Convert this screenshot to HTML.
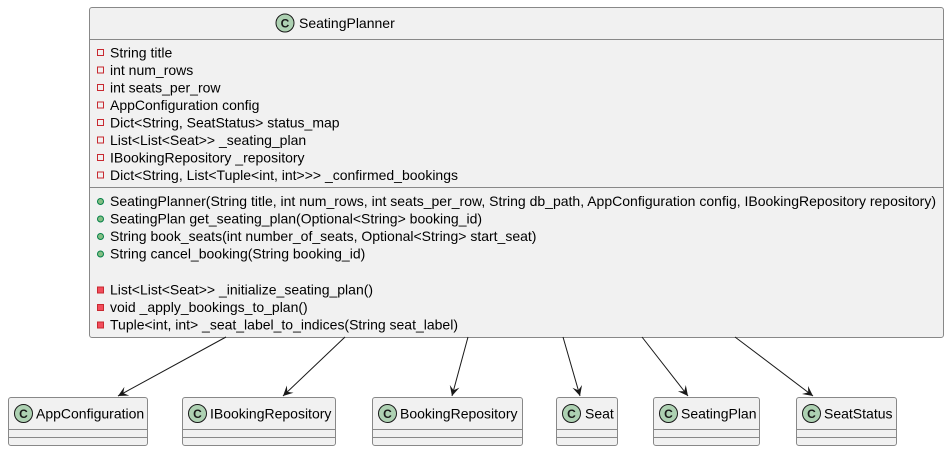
<!DOCTYPE html>
<html><head><meta charset="utf-8"><style>
html,body{margin:0;padding:0;background:#fff;}
svg{display:block;font-family:"Liberation Sans",sans-serif;}
</style></head><body>
<svg width="948" height="451" viewBox="0 0 948 451" xmlns="http://www.w3.org/2000/svg">
<defs>
<marker id="a" markerWidth="12" markerHeight="12" refX="10" refY="5" orient="auto" markerUnits="userSpaceOnUse">
<path d="M0,0 L10,5 L0,10 L4,5 Z" fill="#181818"/>
</marker>
</defs>
<rect x="89.5" y="7.5" width="854" height="330" rx="2.5" fill="#f1f1f1" stroke="#888" stroke-width="1"/>
<line x1="89.5" y1="39.5" x2="943.5" y2="39.5" stroke="#888"/>
<line x1="89.5" y1="187.5" x2="943.5" y2="187.5" stroke="#888"/>
<circle cx="285" cy="23" r="9" fill="#add1b2" stroke="#181818" stroke-width="1"/>
<text x="285" y="27.5" font-size="12" font-weight="bold" text-anchor="middle" fill="#181818">C</text>
<text x="299" y="28" font-size="14" fill="#000">SeatingPlanner</text>
<g fill="none" stroke="#c82930" stroke-width="1">
<rect x="97.5" y="49.5" width="6" height="6"/>
<rect x="97.5" y="67" width="6" height="6"/>
<rect x="97.5" y="84.5" width="6" height="6"/>
<rect x="97.5" y="102" width="6" height="6"/>
<rect x="97.5" y="119.5" width="6" height="6"/>
<rect x="97.5" y="137" width="6" height="6"/>
<rect x="97.5" y="154.5" width="6" height="6"/>
<rect x="97.5" y="172" width="6" height="6"/>
</g>
<g font-size="14" fill="#000">
<text x="110" y="57.5">String title</text>
<text x="110" y="75">int num_rows</text>
<text x="110" y="92.5">int seats_per_row</text>
<text x="110" y="110">AppConfiguration config</text>
<text x="110" y="127.5">Dict&lt;String, SeatStatus&gt; status_map</text>
<text x="110" y="145">List&lt;List&lt;Seat&gt;&gt; _seating_plan</text>
<text x="110" y="162.5">IBookingRepository _repository</text>
<text x="110" y="180" textLength="348">Dict&lt;String, List&lt;Tuple&lt;int, int&gt;&gt;&gt; _confirmed_bookings</text>
<text x="110" y="206" textLength="826">SeatingPlanner(String title, int num_rows, int seats_per_row, String db_path, AppConfiguration config, IBookingRepository repository)</text>
<text x="110" y="223.5">SeatingPlan get_seating_plan(Optional&lt;String&gt; booking_id)</text>
<text x="110" y="241">String book_seats(int number_of_seats, Optional&lt;String&gt; start_seat)</text>
<text x="110" y="258.5">String cancel_booking(String booking_id)</text>
<text x="110" y="294.5">List&lt;List&lt;Seat&gt;&gt; _initialize_seating_plan()</text>
<text x="110" y="312">void _apply_bookings_to_plan()</text>
<text x="110" y="329.5" textLength="348">Tuple&lt;int, int&gt; _seat_label_to_indices(String seat_label)</text>
</g>
<g fill="#84be84" stroke="#038048" stroke-width="1">
<circle cx="100.5" cy="201.5" r="3"/>
<circle cx="100.5" cy="219" r="3"/>
<circle cx="100.5" cy="236.5" r="3"/>
<circle cx="100.5" cy="254" r="3"/>
</g>
<g fill="#f24d5c" stroke="#c82930" stroke-width="1">
<rect x="97.5" y="287" width="6" height="6"/>
<rect x="97.5" y="304.5" width="6" height="6"/>
<rect x="97.5" y="322" width="6" height="6"/>
</g>
<g stroke="#181818" stroke-width="1" marker-end="url(#a)">
<line x1="226" y1="337" x2="118" y2="396"/>
<line x1="345" y1="337" x2="283" y2="396"/>
<line x1="468" y1="337" x2="452" y2="396"/>
<line x1="563" y1="337" x2="580" y2="396"/>
<line x1="642" y1="337" x2="688" y2="396"/>
<line x1="735" y1="337" x2="813" y2="396"/>
</g>
<g font-size="14" fill="#000">
<g>
<rect x="8.5" y="397.5" width="139" height="48" rx="2.5" fill="#f1f1f1" stroke="#888"/>
<line x1="8.5" y1="429.5" x2="147.5" y2="429.5" stroke="#888"/><line x1="8.5" y1="437.5" x2="147.5" y2="437.5" stroke="#888"/>
<circle cx="23.5" cy="413.5" r="9" fill="#add1b2" stroke="#181818"/>
<text x="23.5" y="418" font-size="12" font-weight="bold" text-anchor="middle" fill="#181818">C</text>
<text x="36" y="418.5">AppConfiguration</text>
</g>
<g>
<rect x="182.5" y="397.5" width="153" height="48" rx="2.5" fill="#f1f1f1" stroke="#888"/>
<line x1="182.5" y1="429.5" x2="335.5" y2="429.5" stroke="#888"/><line x1="182.5" y1="437.5" x2="335.5" y2="437.5" stroke="#888"/>
<circle cx="197.5" cy="413.5" r="9" fill="#add1b2" stroke="#181818"/>
<text x="197.5" y="418" font-size="12" font-weight="bold" text-anchor="middle" fill="#181818">C</text>
<text x="210" y="418.5">IBookingRepository</text>
</g>
<g>
<rect x="372.5" y="397.5" width="150" height="48" rx="2.5" fill="#f1f1f1" stroke="#888"/>
<line x1="372.5" y1="429.5" x2="522.5" y2="429.5" stroke="#888"/><line x1="372.5" y1="437.5" x2="522.5" y2="437.5" stroke="#888"/>
<circle cx="387.5" cy="413.5" r="9" fill="#add1b2" stroke="#181818"/>
<text x="387.5" y="418" font-size="12" font-weight="bold" text-anchor="middle" fill="#181818">C</text>
<text x="400" y="418.5">BookingRepository</text>
</g>
<g>
<rect x="556.5" y="397.5" width="61" height="48" rx="2.5" fill="#f1f1f1" stroke="#888"/>
<line x1="556.5" y1="429.5" x2="617.5" y2="429.5" stroke="#888"/><line x1="556.5" y1="437.5" x2="617.5" y2="437.5" stroke="#888"/>
<circle cx="571.5" cy="413.5" r="9" fill="#add1b2" stroke="#181818"/>
<text x="571.5" y="418" font-size="12" font-weight="bold" text-anchor="middle" fill="#181818">C</text>
<text x="585" y="418.5">Seat</text>
</g>
<g>
<rect x="653.5" y="397.5" width="106" height="48" rx="2.5" fill="#f1f1f1" stroke="#888"/>
<line x1="653.5" y1="429.5" x2="759.5" y2="429.5" stroke="#888"/><line x1="653.5" y1="437.5" x2="759.5" y2="437.5" stroke="#888"/>
<circle cx="668.5" cy="413.5" r="9" fill="#add1b2" stroke="#181818"/>
<text x="668.5" y="418" font-size="12" font-weight="bold" text-anchor="middle" fill="#181818">C</text>
<text x="681" y="418.5">SeatingPlan</text>
</g>
<g>
<rect x="796.5" y="397.5" width="100" height="48" rx="2.5" fill="#f1f1f1" stroke="#888"/>
<line x1="796.5" y1="429.5" x2="896.5" y2="429.5" stroke="#888"/><line x1="796.5" y1="437.5" x2="896.5" y2="437.5" stroke="#888"/>
<circle cx="811.5" cy="413.5" r="9" fill="#add1b2" stroke="#181818"/>
<text x="811.5" y="418" font-size="12" font-weight="bold" text-anchor="middle" fill="#181818">C</text>
<text x="824" y="418.5">SeatStatus</text>
</g>
</g>
</svg>
</body></html>
